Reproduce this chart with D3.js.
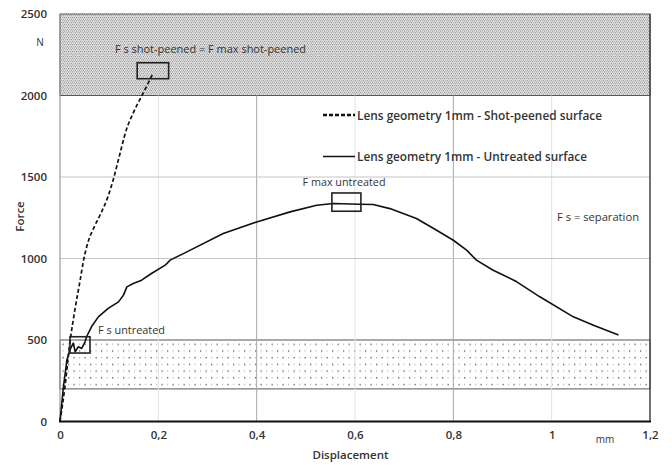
<!DOCTYPE html>
<html>
<head>
<meta charset="utf-8">
<script src="https://cdn.jsdelivr.net/npm/d3@7"></script>
<style>
  body { margin: 0; background: #fff; }
  text { font-family: "Open Sans", sans-serif; fill: #333; }
</style>
</head>
<body>
<svg id="chart" width="672" height="465"></svg>
<script>
// tick values and labels
const xTicks = [0, 0.2, 0.4, 0.6, 0.8, 1, 1.2];
const xTickLabels = ["0", "0,2", "0,4", "0,6", "0,8", "1", "1,2"];
const yTicks = [0, 500, 1000, 1500, 2000, 2500];

// shot-peened curve (dashed)
const shotDisp = [0, 0.010, 0.020, 0.030, 0.041, 0.048, 0.058, 0.069, 0.082, 0.097, 0.108, 0.120, 0.135, 0.150, 0.165, 0.180, 0.190];
const shotForce = [0, 213, 481, 680, 867, 990, 1110, 1190, 1270, 1375, 1480, 1620, 1790, 1900, 1990, 2080, 2140];

// untreated curve (solid)
const untrDisp = [0, 0.007, 0.014, 0.020, 0.027, 0.031, 0.037, 0.044, 0.051, 0.054, 0.064, 0.078, 0.098, 0.119, 0.129, 0.136, 0.149, 0.166, 0.186, 0.214, 0.224, 0.251, 0.332, 0.400, 0.468, 0.522, 0.556, 0.610, 0.637, 0.671, 0.725, 0.766, 0.800, 0.827, 0.847, 0.881, 0.895, 0.929, 0.976, 1.044, 1.085, 1.136];
const untrForce = [0, 213, 377, 438, 481, 428, 458, 448, 489, 520, 581, 642, 694, 734, 775, 826, 847, 867, 908, 959, 990, 1030, 1153, 1224, 1286, 1327, 1337, 1333, 1331, 1306, 1245, 1173, 1112, 1051, 990, 928, 908, 857, 765, 642, 591, 530];

// zones and annotation boxes [x0, x1, y0, y1]
const zoneTop = [0, 1.2, 2000, 2500];
const zoneBottom = [0, 1.2, 200, 500];
const boxes = [
  [0.157, 0.221, 2103, 2201],
  [0.0203, 0.061, 420, 520],
  [0.553, 0.612, 1290, 1402]
];

const svg = d3.select("#chart");
const x = d3.scaleLinear().domain([0, 1.2]).range([60, 650]);
const y = d3.scaleLinear().domain([0, 2500]).range([421.5, 14]);

const defs = svg.append("defs");
// dense pattern for top zone
const pTop = defs.append("pattern").attr("id", "dense")
  .attr("patternUnits", "userSpaceOnUse").attr("width", 4).attr("height", 3.4);
pTop.append("rect").attr("width", 4).attr("height", 3.4).attr("fill", "#e6e6e6");
[[0, 0, "#888"], [2, 0, "#9a9a9a"], [1, 1.7, "#a6a6a6"], [3, 1.7, "#8e8e8e"]].forEach(p => {
  pTop.append("rect").attr("x", p[0]).attr("y", p[1]).attr("width", 1.1).attr("height", 1.1).attr("fill", p[2]);
});
// sparse dots for bottom zone
const pBot = defs.append("pattern").attr("id", "sparse")
  .attr("patternUnits", "userSpaceOnUse").attr("width", 11).attr("height", 13.4);
[[2, 2, "#555", 1.3], [7.5, 8.7, "#555", 1.3], [2, 8.7, "#aaa", 1.1], [7.5, 2, "#aaa", 1.1]].forEach(p => {
  pBot.append("rect").attr("x", p[0]).attr("y", p[1]).attr("width", p[3]).attr("height", p[3]).attr("fill", p[2]);
});

// zones
function zone(z, fill) {
  svg.append("rect")
    .attr("x", x(z[0])).attr("y", y(z[3]))
    .attr("width", x(z[1]) - x(z[0])).attr("height", y(z[2]) - y(z[3]))
    .attr("fill", fill).attr("stroke", "#555").attr("stroke-width", 1);
}
zone(zoneTop, "url(#dense)");
zone(zoneBottom, "url(#sparse)");

// grid
const grid = svg.append("g");
grid.selectAll(".vg").data(xTicks.slice(1, -1)).enter().append("line")
  .attr("x1", d => x(d)).attr("x2", d => x(d))
  .attr("y1", y(2000)).attr("y2", y(0))
  .attr("stroke", (d, i) => i % 2 ? "#a8a8a8" : "#e2e2e2").attr("stroke-width", 1);
grid.selectAll(".hg").data([1000, 1500]).enter().append("line")
  .attr("x1", x(0)).attr("x2", x(1.2))
  .attr("y1", d => y(d)).attr("y2", d => y(d))
  .attr("stroke", "#c4c4c4").attr("stroke-width", 1);

// axes frame
svg.append("line").attr("x1", x(0)).attr("x2", x(0)).attr("y1", y(2500)).attr("y2", y(0))
  .attr("stroke", "#999").attr("stroke-width", 1.2);
svg.append("line").attr("x1", x(1.2)).attr("x2", x(1.2)).attr("y1", y(2500)).attr("y2", y(0))
  .attr("stroke", "#444").attr("stroke-width", 1.5);
svg.append("line").attr("x1", x(0) - 1).attr("x2", x(1.2) + 1).attr("y1", y(0)).attr("y2", y(0))
  .attr("stroke", "#111").attr("stroke-width", 2);

// tick labels via d3 axes
const yAxis = svg.append("g").attr("transform", `translate(${x(0) - 13},0)`)
  .call(d3.axisLeft(y).tickValues(yTicks).tickSize(0).tickPadding(0).tickFormat(d3.format("d")));
const xAxis = svg.append("g").attr("transform", `translate(0,${y(0) + 9})`)
  .call(d3.axisBottom(x).tickValues(xTicks).tickSize(0).tickPadding(0)
    .tickFormat((d, i) => xTickLabels[i]));
[yAxis, xAxis].forEach(a => {
  a.select(".domain").remove();
  a.selectAll("text").attr("font-family", "Open Sans, sans-serif")
    .attr("font-size", 11.5).attr("font-weight", 600).attr("fill", "#4a4a4a");
});

// curves
const line = d3.line().x(d => x(d[0])).y(d => y(d[1]));
svg.append("path").datum(d3.zip(untrDisp, untrForce))
  .attr("d", line).attr("fill", "none").attr("stroke", "#111").attr("stroke-width", 1.6)
  .attr("stroke-linejoin", "round");
svg.append("path").datum(d3.zip(shotDisp, shotForce))
  .attr("d", line.curve(d3.curveMonotoneX)).attr("fill", "none").attr("stroke", "#111").attr("stroke-width", 1.7)
  .attr("stroke-dasharray", "4,2.5");

// annotation boxes
svg.selectAll(".box").data(boxes).enter().append("rect")
  .attr("x", d => x(d[0])).attr("y", d => y(d[3]))
  .attr("width", d => x(d[1]) - x(d[0])).attr("height", d => y(d[2]) - y(d[3]))
  .attr("fill", "none").attr("stroke", "#222").attr("stroke-width", 1.6);

// legend
svg.append("line").attr("x1", 323).attr("x2", 355).attr("y1", 115).attr("y2", 115)
  .attr("stroke", "#111").attr("stroke-width", 2.4).attr("stroke-dasharray", "4,2");
svg.append("line").attr("x1", 323).attr("x2", 355).attr("y1", 156.5).attr("y2", 156.5)
  .attr("stroke", "#111").attr("stroke-width", 1.5);
svg.append("text").attr("x", 357).attr("y", 119.5).attr("font-size", 12).attr("font-weight", 600)
  .attr("textLength", 245).attr("lengthAdjust", "spacingAndGlyphs").text("Lens geometry 1mm - Shot-peened surface");
svg.append("text").attr("x", 357).attr("y", 161).attr("font-size", 12).attr("font-weight", 600)
  .attr("textLength", 230).attr("lengthAdjust", "spacingAndGlyphs").text("Lens geometry 1mm - Untreated surface");

// annotations
const ann = [
  ["F s shot-peened = F max shot-peened", 115, 53, 191],
  ["F max untreated", 302.5, 186, 83],
  ["F s = separation", 557, 221, 82],
  ["F s untreated", 98, 334, 67]
];
ann.forEach(a => {
  svg.append("text").attr("x", a[1]).attr("y", a[2]).attr("font-size", 11)
    .attr("textLength", a[3]).attr("lengthAdjust", "spacingAndGlyphs").text(a[0]);
});

// units and axis titles
svg.append("text").attr("x", 40).attr("y", 46).attr("font-size", 10).attr("text-anchor", "middle")
  .attr("fill", "#555").text("N");
svg.append("text").attr("x", 605).attr("y", 443).attr("font-size", 10).attr("text-anchor", "middle")
  .attr("fill", "#555").text("mm");
svg.append("text").attr("x", 350.5).attr("y", 459).attr("font-size", 11.5).attr("text-anchor", "middle")
  .attr("font-weight", 600).text("Displacement");
svg.append("text").attr("transform", "translate(24,216.5) rotate(-90)").attr("font-size", 11.5)
  .attr("font-weight", 600).attr("text-anchor", "middle").text("Force");
</script>
</body>
</html>
